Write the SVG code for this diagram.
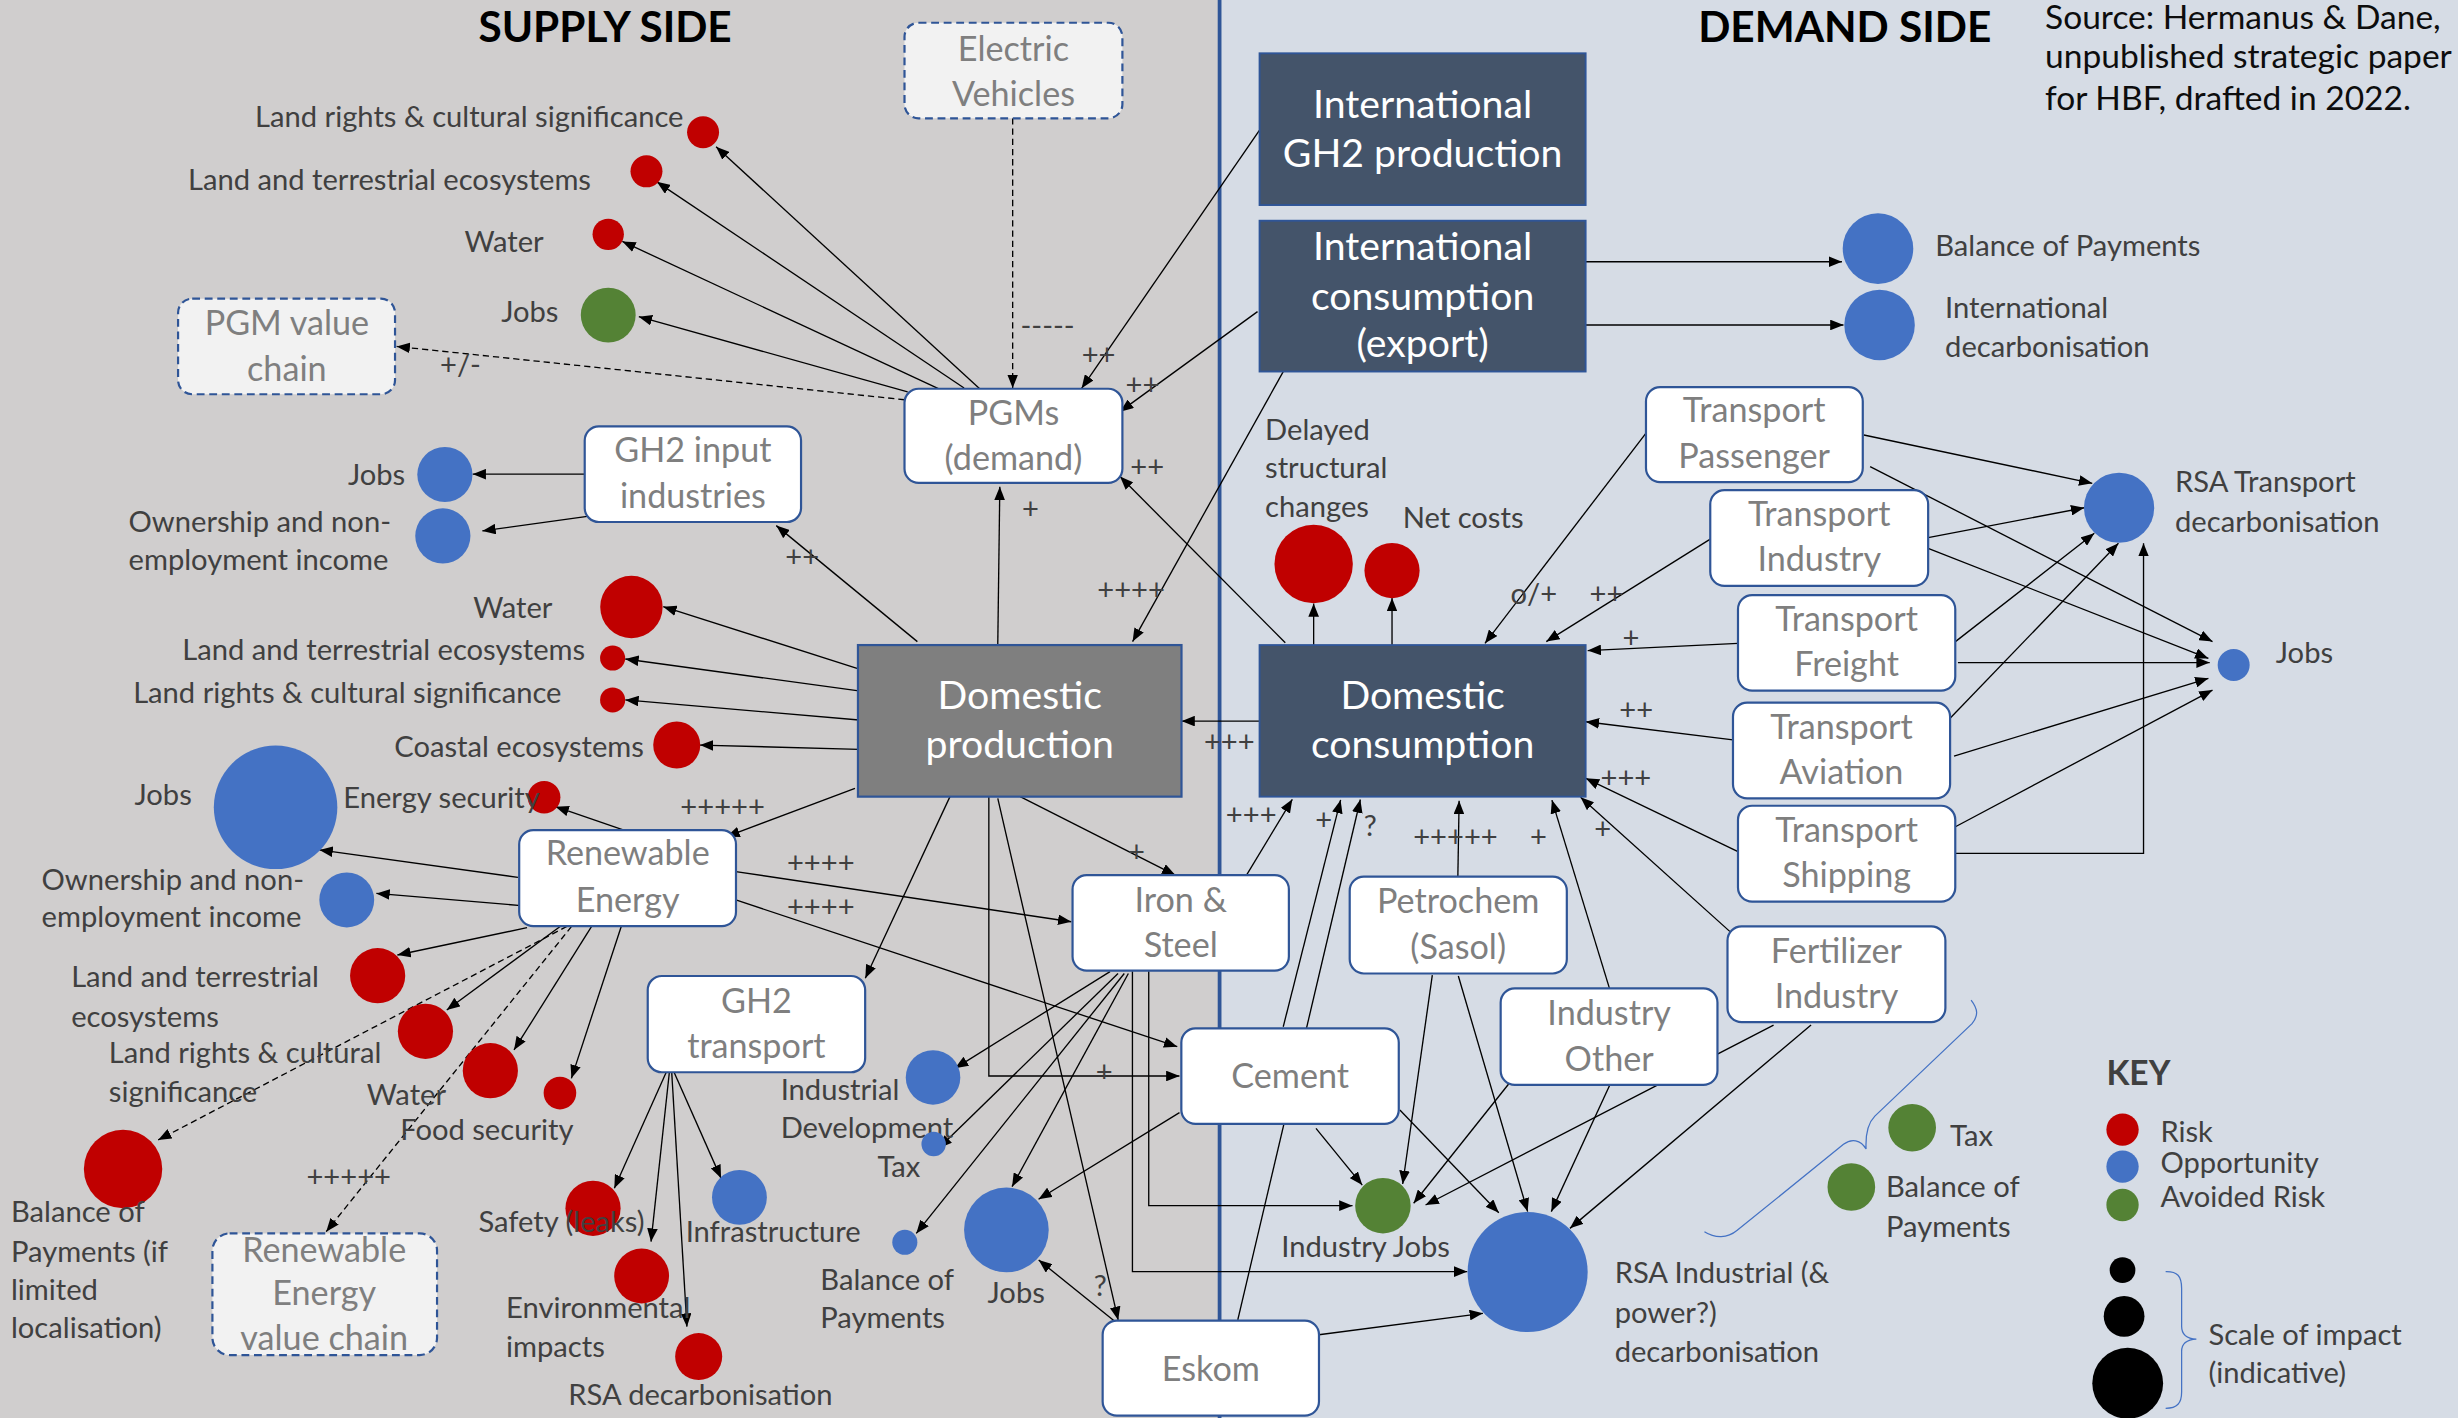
<svg xmlns="http://www.w3.org/2000/svg" width="2458" height="1418" viewBox="0 0 2458 1418">
<defs>
<marker id="ah" viewBox="0 0 10 8" refX="10" refY="4" markerWidth="8.5" markerHeight="6.8" markerUnits="userSpaceOnUse" orient="auto"><path d="M0,0 L10,4 L0,8 z" fill="#000"/></marker>
<style>
text{font-family:Lato,"Open Sans","DejaVu Sans",sans-serif}
.lbl{font-size:18.6px;fill:#404040}
.sgn{font-size:18.6px;fill:#404040}
.bx{font-size:21.8px;fill:#7F7F7F;text-anchor:middle}
.dk{font-size:25px;fill:#FFFFFF;text-anchor:middle}
.ttl{font-size:27px;font-weight:bold;fill:#000;text-anchor:middle}
.src{font-size:21.4px;fill:#0D0D0D}
.key{font-size:21.4px;font-weight:bold;fill:#404040}
.nb{fill:#FFFFFF;stroke:#2F5597;stroke-width:1.4}
.db{fill:#F2F2F2;stroke:#2F5597;stroke-width:1.4;stroke-dasharray:5 3}
.dark{fill:#44546A;stroke:#2F5597;stroke-width:1.2}
.dp{fill:#7F7F7F;stroke:#2F5597;stroke-width:1.4}
.r{fill:#C00000}.b{fill:#4472C4}.g{fill:#548235}.k{fill:#000}
.c{stroke:#000;stroke-width:0.85;fill:none;marker-end:url(#ah)}
.cd{stroke:#000;stroke-width:0.85;fill:none;stroke-dasharray:4 2.5;marker-end:url(#ah)}
.br{stroke:#4472C4;stroke-width:0.8;fill:none}
</style>
</defs>
<g transform="scale(1.5676)">
<rect x="0" y="0" width="778" height="906" fill="#D0CECE"/>
<rect x="778" y="0" width="792" height="906" fill="#D6DCE5"/>
<line x1="778" y1="0" x2="778" y2="906" stroke="#2F5597" stroke-width="2.4"/>

<g id="connectors">
<path class="c" d="M626,249 L456.8,93.6"/>
<path class="c" d="M615,247.5 L419,116"/>
<path class="c" d="M601,249 L397,154"/>
<path class="c" d="M579,250 L407.5,202"/>
<path class="cd" d="M577,255 L253,221"/>
<path class="cd" d="M646,75.5 L646,247.5"/>
<path class="c" d="M803.5,83 L690,247.7"/>
<path class="c" d="M802.2,198.8 L714.5,262.6"/>
<path class="c" d="M819.9,410 L714.5,304"/>
<path class="c" d="M818.6,237.1 L722.5,409.3"/>
<path class="c" d="M1011.5,167 L1175,167"/>
<path class="c" d="M1011.5,207.3 L1176,207.3"/>
<path class="c" d="M838,411.5 L838,385"/>
<path class="c" d="M888,411.5 L888,381.5"/>
<path class="c" d="M803.5,460 L753.7,460"/>
<path class="c" d="M1049.9,276.4 L947.3,410.4"/>
<path class="c" d="M1091,343.9 L986.4,409.3"/>
<path class="c" d="M1108.7,410.4 L1012.8,415"/>
<path class="c" d="M1105.5,472 L1011.6,460.4"/>
<path class="c" d="M1108.7,543.3 L1011.6,496.5"/>
<path class="c" d="M1103.6,594.3 L1008.3,508.6"/>
<path class="c" d="M794.6,559.2 L824.4,509.9"/>
<path class="c" d="M818.6,655 L855.2,510.3"/>
<path class="c" d="M789.6,842 L867.8,510"/>
<path class="c" d="M930,558.8 L930.8,510.8"/>
<path class="c" d="M1026.7,630.5 L990,510.4"/>
<path class="c" d="M1189,277.5 L1334.7,308.3"/>
<path class="c" d="M1193,297.7 L1411.4,409.3"/>
<path class="c" d="M1230,343 L1329.6,323.9"/>
<path class="c" d="M1230,349.8 L1408.8,420"/>
<path class="c" d="M1247.4,409.3 L1336,340.2"/>
<path class="c" d="M1249,422.7 L1409.6,422.7"/>
<path class="c" d="M1244,458.2 L1351.4,346.6"/>
<path class="c" d="M1246.5,482.3 L1408.8,432.7"/>
<path class="c" d="M1247.4,527.4 L1411.4,440.2"/>
<path class="c" d="M1247.4,544.4 H1367.4 V346.5"/>
<path class="c" d="M585.2,409.3 L495.2,335.3"/>
<path class="c" d="M636.5,411 L637.8,310.5"/>
<path class="c" d="M546.7,426.3 L423.1,387"/>
<path class="c" d="M546.7,440.6 L398.9,420.4"/>
<path class="c" d="M548,459.3 L398.9,446.5"/>
<path class="c" d="M548,478 L446.5,475.3"/>
<path class="c" d="M545.4,502.9 L463.4,533.7"/>
<path class="c" d="M650.8,508.2 L749.7,558.2"/>
<path class="c" d="M606,508.2 L552,624"/>
<path class="c" d="M636.5,509.3 L713.3,842"/>
<path class="c" d="M630.8,508.2 V686.4 H752.4"/>
<path class="c" d="M372.6,302.5 L301.5,302.5"/>
<path class="c" d="M375.8,329.2 L307.7,338.7"/>
<path class="c" d="M398,529.5 L354.4,514.6"/>
<path class="c" d="M330.4,559.7 L203.8,542.2"/>
<path class="c" d="M332.4,577.7 L240.1,569.9"/>
<path class="c" d="M336.2,591.8 L253.5,609.2"/>
<path class="c" d="M357.3,591 L285,644.3"/>
<path class="c" d="M377.4,591 L327.9,669.8"/>
<path class="c" d="M396.3,591 L364.5,687.9"/>
<path class="cd" d="M361.6,591 L100.9,727.2"/>
<path class="cd" d="M364.6,591 L208.1,785.7"/>
<path class="c" d="M469.4,556 L683.4,588"/>
<path class="c" d="M469.4,574.1 L751,667.7"/>
<path class="c" d="M425,684 L391.9,758"/>
<path class="c" d="M427,684 L415.3,792.1"/>
<path class="c" d="M428.5,684 L438.2,846.3"/>
<path class="c" d="M430,684 L460,751.7"/>
<path class="c" d="M708.1,619.8 L609.2,681.5"/>
<path class="c" d="M713.2,621 L598.8,732.5"/>
<path class="c" d="M717.2,621 L584.5,786.8"/>
<path class="c" d="M719.8,621 L645.6,757"/>
<path class="c" d="M732.8,619.5 V769.1 H862.8"/>
<path class="c" d="M722.4,619.5 V811.2 H936"/>
<path class="c" d="M752.4,709.8 L662.5,765"/>
<path class="c" d="M839.5,719.8 L869,756"/>
<path class="c" d="M893,708.1 L956.1,773.6"/>
<path class="c" d="M718,848.4 L662.6,803.8"/>
<path class="c" d="M840.1,851.6 L946,837.8"/>
<path class="c" d="M913.7,622 L894.8,755.3"/>
<path class="c" d="M930.3,622.6 L974.5,772.9"/>
<path class="c" d="M962.4,691.5 L901.8,767.6"/>
<path class="c" d="M1026.7,692.6 L989.6,772.9"/>
<path class="c" d="M1131.4,653.9 L909.4,768.7"/>
<path class="c" d="M1155.3,653.9 L1001.5,783.6"/>
</g>

<g id="connector-labels">
<text class="sgn" x="651" y="214.5">-----</text>
<text class="sgn" x="690" y="233">++</text>
<text class="sgn" x="718" y="252">++</text>
<text class="sgn" x="721" y="304.6">++</text>
<text class="sgn" x="280.7" y="239.2">+/-</text>
<text class="sgn" x="652" y="331">+</text>
<text class="sgn" x="501" y="361.6">++</text>
<text class="sgn" x="700" y="382.6">++++</text>
<text class="sgn" x="768" y="479.6">+++</text>
<text class="sgn" x="434" y="521">+++++</text>
<text class="sgn" x="719.6" y="550">+</text>
<text class="sgn" x="502" y="556.6">++++</text>
<text class="sgn" x="502" y="585">++++</text>
<text class="sgn" x="699" y="690">+</text>
<text class="sgn" x="697.7" y="827">?</text>
<text class="sgn" x="195.5" y="757">+++++</text>
<text class="sgn" x="963.6" y="385">o/+</text>
<text class="sgn" x="1014" y="385">++</text>
<text class="sgn" x="1035" y="413.6">+</text>
<text class="sgn" x="1033" y="459.6">++</text>
<text class="sgn" x="1021" y="502.6">+++</text>
<text class="sgn" x="1017" y="535">+</text>
<text class="sgn" x="782" y="526.6">+++</text>
<text class="sgn" x="839" y="529.6">+</text>
<text class="sgn" x="870" y="533">?</text>
<text class="sgn" x="901.5" y="540.3">+++++</text>
<text class="sgn" x="976" y="540">+</text>
</g>

<g id="node-electric-vehicles"><rect class="db" x="577" y="14.5" width="139" height="61" rx="9"/><text class="bx" x="646.5" y="38.9">Electric</text><text class="bx" x="646.5" y="67.6">Vehicles</text></g>
<g id="node-pgms"><rect class="nb" x="577" y="248" width="139" height="60" rx="9"/><text class="bx" x="646.5" y="271.1">PGMs</text><text class="bx" x="646.5" y="300">(demand)</text></g>
<g id="node-pgm-value-chain"><rect class="db" x="113.6" y="190.5" width="138.4" height="61" rx="9"/><text class="bx" x="183" y="213.7">PGM value</text><text class="bx" x="183" y="243">chain</text></g>
<g id="node-gh2-input"><rect class="nb" x="373" y="272" width="138" height="61" rx="9"/><text class="bx" x="442" y="295">GH2 input</text><text class="bx" x="442" y="324">industries</text></g>
<g id="node-renewable-energy"><rect class="nb" x="331.2" y="529.5" width="138.3" height="61.3" rx="9"/><text class="bx" x="400.4" y="551.8">Renewable</text><text class="bx" x="400.4" y="581.6">Energy</text></g>
<g id="node-re-value-chain"><rect class="db" x="135.5" y="786.8" width="143.3" height="77.6" rx="11"/><text class="bx" x="206.8" y="804.8">Renewable</text><text class="bx" x="206.8" y="832.5">Energy</text><text class="bx" x="206.8" y="861.2">value chain</text></g>
<g id="node-gh2-transport"><rect class="nb" x="413.2" y="622.6" width="138.7" height="61.4" rx="9"/><text class="bx" x="482.5" y="646.4">GH2</text><text class="bx" x="482.5" y="675.1">transport</text></g>
<g id="node-iron-steel"><rect class="nb" x="684.2" y="558.2" width="138" height="61" rx="9"/><text class="bx" x="753.2" y="581.5">Iron &amp;</text><text class="bx" x="753.2" y="610.3">Steel</text></g>
<g id="node-cement"><rect class="nb" x="753.6" y="656" width="138.7" height="61" rx="9"/><text class="bx" x="823" y="694.3">Cement</text></g>
<g id="node-eskom"><rect class="nb" x="703.4" y="842.5" width="138" height="60.5" rx="9"/><text class="bx" x="772.4" y="880.8">Eskom</text></g>
<g id="node-petrochem"><rect class="nb" x="861" y="559.2" width="138.5" height="61.8" rx="9"/><text class="bx" x="930.2" y="582.5">Petrochem</text><text class="bx" x="930.2" y="611.5">(Sasol)</text></g>
<g id="node-industry-other"><rect class="nb" x="957.3" y="630.5" width="138.3" height="61.6" rx="9"/><text class="bx" x="1026.5" y="654">Industry</text><text class="bx" x="1026.5" y="683">Other</text></g>
<g id="node-fertilizer"><rect class="nb" x="1102" y="591" width="139" height="61" rx="9"/><text class="bx" x="1171.5" y="614.3">Fertilizer</text><text class="bx" x="1171.5" y="643">Industry</text></g>
<g id="node-transport-passenger"><rect class="nb" x="1050" y="247" width="138.3" height="60.5" rx="9"/><text class="bx" x="1119" y="269.5">Transport</text><text class="bx" x="1119" y="298.8">Passenger</text></g>
<g id="node-transport-industry"><rect class="nb" x="1091" y="312.6" width="139" height="61.2" rx="9"/><text class="bx" x="1160.5" y="335.6">Transport</text><text class="bx" x="1160.5" y="364.5">Industry</text></g>
<g id="node-transport-freight"><rect class="nb" x="1108.7" y="379.6" width="138.6" height="61" rx="9"/><text class="bx" x="1178" y="402.6">Transport</text><text class="bx" x="1178" y="431.4">Freight</text></g>
<g id="node-transport-aviation"><rect class="nb" x="1105.5" y="448.2" width="138.5" height="61.1" rx="9"/><text class="bx" x="1174.7" y="471.2">Transport</text><text class="bx" x="1174.7" y="500">Aviation</text></g>
<g id="node-transport-shipping"><rect class="nb" x="1108.7" y="514" width="138.6" height="61.2" rx="9"/><text class="bx" x="1178" y="537">Transport</text><text class="bx" x="1178" y="565.8">Shipping</text></g>

<g id="node-intl-gh2-production"><rect class="dark" x="803.5" y="34" width="208" height="96.8"/><text class="dk" x="907.5" y="75.5">International</text><text class="dk" x="907.5" y="106.3">GH2 production</text></g>
<g id="node-intl-consumption"><rect class="dark" x="803.5" y="140.8" width="208" height="96.2"/><text class="dk" x="907.5" y="165.9">International</text><text class="dk" x="907.5" y="197.8">consumption</text><text class="dk" x="907.5" y="227.5">(export)</text></g>
<g id="node-domestic-production"><rect class="dp" x="547.3" y="411.5" width="206.4" height="96.7"/><text class="dk" x="650.5" y="452.5">Domestic</text><text class="dk" x="650.5" y="483.8">production</text></g>
<g id="node-domestic-consumption"><rect class="dark" x="803.5" y="411.5" width="208" height="96.7"/><text class="dk" x="907.5" y="452.5">Domestic</text><text class="dk" x="907.5" y="483.8">consumption</text></g>

<g id="impact-pgm-landrights"><circle class="r" cx="448.5" cy="84.4" r="10.2"/><text class="lbl" x="436" y="80.8" text-anchor="end">Land rights &amp; cultural significance</text></g>
<g id="impact-pgm-land"><circle class="r" cx="412.4" cy="109.3" r="10.2"/><text class="lbl" x="377" y="121.2" text-anchor="end">Land and terrestrial ecosystems</text></g>
<g id="impact-pgm-water"><circle class="r" cx="388" cy="149.5" r="10"/><text class="lbl" x="346.8" y="160.5" text-anchor="end">Water</text></g>
<g id="impact-pgm-jobs"><circle class="g" cx="388" cy="201" r="17.5"/><text class="lbl" x="356.2" y="205.2" text-anchor="end">Jobs</text></g>

<g id="impact-gh2in-jobs"><circle class="b" cx="283.8" cy="302.7" r="17.6"/><text class="lbl" x="258.5" y="309.4" text-anchor="end">Jobs</text></g>
<g id="impact-gh2in-ownership"><circle class="b" cx="282.5" cy="341.9" r="17.6"/><text class="lbl" x="82" y="339.2">Ownership and non-</text><text class="lbl" x="82" y="363.6">employment income</text></g>

<g id="impact-dp-water"><circle class="r" cx="402.8" cy="387.2" r="19.9"/><text class="lbl" x="352.4" y="394.4" text-anchor="end">Water</text></g>
<g id="impact-dp-land"><circle class="r" cx="390.8" cy="419.8" r="8"/><text class="lbl" x="373.3" y="421" text-anchor="end">Land and terrestrial ecosystems</text></g>
<g id="impact-dp-landrights"><circle class="r" cx="390.8" cy="446.5" r="8"/><text class="lbl" x="358.2" y="448.7" text-anchor="end">Land rights &amp; cultural significance</text></g>
<g id="impact-dp-coastal"><circle class="r" cx="431.7" cy="475.3" r="15"/><text class="lbl" x="410.8" y="482.7" text-anchor="end">Coastal ecosystems</text></g>

<g id="impact-re-energy-security"><circle class="r" cx="347.1" cy="508.6" r="10.4"/><text class="lbl" x="219" y="515.6">Energy security</text></g>
<g id="impact-re-jobs"><circle class="b" cx="175.8" cy="515" r="39.4"/><text class="lbl" x="85.8" y="513.5">Jobs</text></g>
<g id="impact-re-ownership"><circle class="b" cx="221.2" cy="574.1" r="17.5"/><text class="lbl" x="26.5" y="567.7">Ownership and non-</text><text class="lbl" x="26.5" y="591.1">employment income</text></g>
<g id="impact-re-land"><circle class="r" cx="240.9" cy="622.4" r="17.6"/><text class="lbl" x="45.4" y="629.4">Land and terrestrial</text><text class="lbl" x="45.4" y="655">ecosystems</text></g>
<g id="impact-re-landrights"><circle class="r" cx="271.4" cy="657.9" r="17.6"/><text class="lbl" x="69.4" y="678.3">Land rights &amp; cultural</text><text class="lbl" x="69.4" y="702.8">significance</text></g>
<g id="impact-re-water"><circle class="r" cx="312.8" cy="683" r="17.6"/><text class="lbl" x="234" y="705">Water</text></g>
<g id="impact-re-food"><circle class="r" cx="357.2" cy="697.3" r="10.4"/><text class="lbl" x="255.3" y="727.2">Food security</text></g>
<g id="impact-re-bop"><circle class="r" cx="78.5" cy="745.7" r="25"/><text class="lbl" x="7" y="779.3">Balance of</text><text class="lbl" x="7" y="804.8">Payments (if</text><text class="lbl" x="7" y="829.3">limited</text><text class="lbl" x="7" y="853.7">localisation)</text></g>

<g id="impact-gt-safety"><circle class="r" cx="378.3" cy="770.8" r="17.6"/><text class="lbl" x="305.2" y="785.7">Safety (leaks)</text></g>
<g id="impact-gt-infrastructure"><circle class="b" cx="471.7" cy="763.8" r="17.5"/><text class="lbl" x="437.4" y="792.1">Infrastructure</text></g>
<g id="impact-gt-environmental"><circle class="r" cx="409.3" cy="814" r="17.5"/><text class="lbl" x="322.8" y="841">Environmental</text><text class="lbl" x="322.8" y="865.8">impacts</text></g>
<g id="impact-gt-rsa-decarb"><circle class="r" cx="445.7" cy="865.4" r="15"/><text class="lbl" x="362.5" y="896.3">RSA decarbonisation</text></g>

<g id="impact-is-inddev"><circle class="b" cx="595.2" cy="687.3" r="17.4"/><text class="lbl" x="498" y="701.7">Industrial</text><text class="lbl" x="498" y="726.2">Development</text></g>
<g id="impact-is-tax"><circle class="b" cx="595.6" cy="729.8" r="7.8"/><text class="lbl" x="559.7" y="750.6">Tax</text></g>
<g id="impact-is-bop"><circle class="b" cx="577.2" cy="792.5" r="8"/><text class="lbl" x="523.3" y="823">Balance of</text><text class="lbl" x="523.3" y="847.4">Payments</text></g>
<g id="impact-is-jobs"><circle class="b" cx="642" cy="784.6" r="27"/><text class="lbl" x="630" y="831.4">Jobs</text></g>

<g id="impact-delayed"><circle class="r" cx="838" cy="359.8" r="25"/><text class="lbl" x="807" y="280.5">Delayed</text><text class="lbl" x="807" y="305">structural</text><text class="lbl" x="807" y="330">changes</text></g>
<g id="impact-netcosts"><circle class="r" cx="888" cy="364" r="17.6"/><text class="lbl" x="894.8" y="337">Net costs</text></g>
<g id="impact-intl-bop"><circle class="b" cx="1198" cy="158.6" r="22.5"/><text class="lbl" x="1234.5" y="163">Balance of Payments</text></g>
<g id="impact-intl-decarb"><circle class="b" cx="1199" cy="207.3" r="22.5"/><text class="lbl" x="1240.8" y="203">International</text><text class="lbl" x="1240.8" y="228">decarbonisation</text></g>
<g id="impact-rsa-transport"><circle class="b" cx="1351.8" cy="323.9" r="22.4"/><text class="lbl" x="1387.5" y="313.7">RSA Transport</text><text class="lbl" x="1387.5" y="339.2">decarbonisation</text></g>
<g id="impact-transport-jobs"><circle class="b" cx="1424.9" cy="424.2" r="10.2"/><text class="lbl" x="1451.8" y="422.7">Jobs</text></g>
<g id="impact-industry-jobs"><circle class="g" cx="882.2" cy="769.1" r="17.7"/><text class="lbl" x="817.4" y="801.6">Industry Jobs</text></g>
<g id="impact-rsa-industrial"><circle class="b" cx="974.5" cy="811.4" r="38.3"/><text class="lbl" x="1030" y="818.7">RSA Industrial (&amp;</text><text class="lbl" x="1030" y="844.2">power?)</text><text class="lbl" x="1030" y="868.6">decarbonisation</text></g>
<g id="impact-tax"><circle class="g" cx="1219.8" cy="719.4" r="15.2"/><text class="lbl" x="1244" y="731">Tax</text></g>
<g id="impact-bop"><circle class="g" cx="1181" cy="757.2" r="15.2"/><text class="lbl" x="1203.1" y="763.4">Balance of</text><text class="lbl" x="1203.1" y="788.9">Payments</text></g>
<path class="br" d="M1257.4,638 C1262,644 1262,648 1258,653 L1196,712 C1191,717 1190,724 1190.4,733 C1187,727 1181,726 1176,730 L1108,785 C1102,790 1094,790 1087.3,785.7"/>

<g id="key">
<text class="key" x="1343.7" y="692.1">KEY</text>
<circle class="r" cx="1354" cy="720.6" r="10.3"/><text class="lbl" x="1378.2" y="728.3">Risk</text>
<circle class="b" cx="1354" cy="744.2" r="10.3"/><text class="lbl" x="1378.2" y="748.5">Opportunity</text>
<circle class="g" cx="1354" cy="768.7" r="10.3"/><text class="lbl" x="1378.2" y="769.8">Avoided Risk</text>
<circle class="k" cx="1354" cy="810.2" r="8.2"/>
<circle class="k" cx="1355" cy="839.7" r="13"/>
<circle class="k" cx="1357.3" cy="882.4" r="22.6"/>
<path class="br" d="M1381.5,811.2 C1389,811 1391.7,814 1391.7,822 L1391.7,846 C1391.7,851 1395,854 1401.1,854.2 C1395,854.5 1391.7,857 1391.7,862 L1391.7,888 C1391.7,895 1389,898.4 1381.5,898.4"/>
<text class="lbl" x="1408.8" y="858">Scale of impact</text>
<text class="lbl" x="1408.8" y="882.4">(indicative)</text>
</g>

<g id="titles">
<text class="ttl" x="386" y="26.6">SUPPLY SIDE</text>
<text class="ttl" x="1176.8" y="26.6">DEMAND SIDE</text>
<text class="src" x="1304.6" y="18.5">Source: Hermanus &amp; Dane,</text>
<text class="src" x="1304.6" y="43.5">unpublished strategic paper</text>
<text class="src" x="1304.6" y="70">for HBF, drafted in 2022.</text>
</g>
</g>
</svg>
